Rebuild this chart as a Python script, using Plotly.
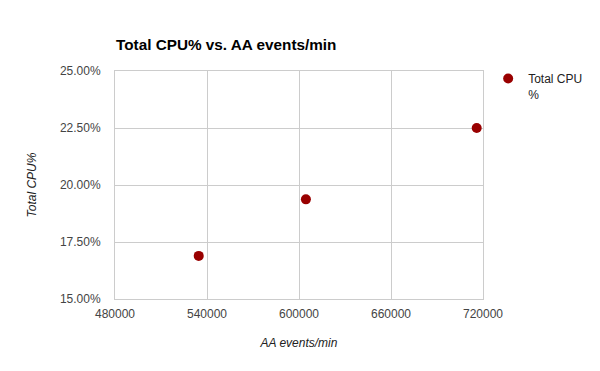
import plotly.graph_objects as go

aa_events = [534600, 604500, 715900]
cpu_pct = [0.1689, 0.1937, 0.2250]
x_ticks = [480000, 540000, 600000, 660000, 720000]
y_ticks = [0.15, 0.175, 0.20, 0.225, 0.25]
y_tick_labels = ["15.00%", "17.50%", "20.00%", "22.50%", "25.00%"]

FONT = "Liberation Sans, Arial, sans-serif"

fig = go.Figure()
fig.add_trace(go.Scatter(
    x=aa_events, y=cpu_pct, mode="markers",
    name="Total CPU<br>%",
    marker=dict(color="#990000", size=10, line=dict(width=0)),
    showlegend=True,
))

fig.update_layout(
    width=600, height=371,
    margin=dict(l=115, r=115, t=71, b=72),
    paper_bgcolor="white", plot_bgcolor="white",
    font=dict(family=FONT, size=12, color="#444444"),
    title=dict(text="<b>Total CPU% vs. AA events/min</b>",
               font=dict(family=FONT, size=15.3, color="#000000"),
               x=116/600, xref="container", xanchor="left",
               y=1-45/371, yref="container", yanchor="middle"),
    legend=dict(x=1.014, y=1.03, xanchor="left", yanchor="top",
                font=dict(family=FONT, size=12, color="#222222"),
                valign="top", itemwidth=30, bgcolor="rgba(0,0,0,0)"),
    showlegend=True,
)
fig.update_xaxes(
    range=[480000, 720000], tickvals=x_ticks, ticktext=[str(v) for v in x_ticks],
    showgrid=True, gridcolor="#cccccc", gridwidth=1,
    showline=True, linecolor="#cccccc", linewidth=1, mirror=True,
    zeroline=False, ticks="", ticklabelstandoff=4,
    tickfont=dict(family=FONT, size=12, color="#444444"),
    title=dict(text="<i>AA events/min</i>", standoff=18,
               font=dict(family=FONT, size=12, color="#222222")),
)
fig.update_yaxes(
    range=[0.15, 0.25], tickvals=y_ticks, ticktext=y_tick_labels,
    showgrid=True, gridcolor="#cccccc", gridwidth=1,
    showline=True, linecolor="#cccccc", linewidth=1, mirror=True,
    zeroline=False, ticks="", ticklabelstandoff=11,
    tickfont=dict(family=FONT, size=12, color="#444444"),
    title=dict(text="<i>Total CPU%</i>", standoff=20,
               font=dict(family=FONT, size=12, color="#222222")),
)

fig.write_html("out.html", config={"displayModeBar": False},
               post_script="document.body.style.margin='0';")
